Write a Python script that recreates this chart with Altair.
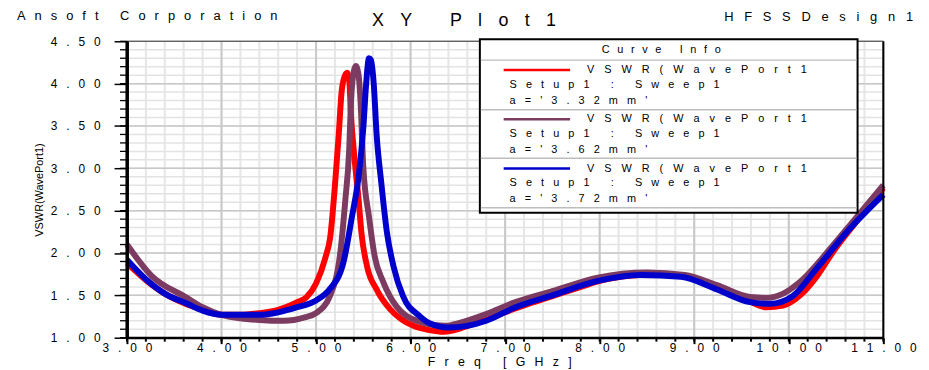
import altair as alt
import pandas as pd

# ---------------- data ----------------
series_labels = ["a='3.32mm'", "a='3.62mm'", "a='3.72mm'"]
series_colors = ["#FF0000", "#7C3C62", "#0000CC"]
legend_line1 = "VSWR(WavePort1"
legend_line2 = "Setup1 : Sweep1"

freq_332 = [3.00, 3.20, 3.40, 3.60, 3.80, 4.00, 4.20, 4.40, 4.60, 4.80, 4.90, 5.00, 5.10, 5.15, 5.20,
            5.24, 5.27, 5.30, 5.33, 5.35, 5.37, 5.40, 5.45, 5.48, 5.54, 5.64, 5.78, 5.90, 6.03, 6.20,
            6.35, 6.50, 6.60, 6.80, 7.00, 7.20, 7.50, 7.80, 8.00, 8.30, 8.60, 8.90, 9.20, 9.50, 9.76,
            9.94, 10.12, 10.30, 10.46, 10.70, 11.00]
vswr_332 = [1.88, 1.68, 1.52, 1.41, 1.33, 1.27, 1.27, 1.29, 1.33, 1.42, 1.48, 1.64, 1.95, 2.19, 2.80,
            3.40, 3.90, 4.08, 4.13, 4.06, 3.62, 3.20, 2.63, 2.24, 1.84, 1.57, 1.34, 1.22, 1.14, 1.09,
            1.07, 1.10, 1.14, 1.21, 1.30, 1.38, 1.49, 1.60, 1.67, 1.73, 1.75, 1.73, 1.62, 1.48, 1.36,
            1.38, 1.50, 1.73, 2.00, 2.35, 2.77]

freq_362 = [3.00, 3.26, 3.62, 3.80, 4.00, 4.20, 4.40, 4.66, 4.88, 5.00, 5.15, 5.26, 5.31, 5.35, 5.37,
            5.40, 5.42, 5.45, 5.47, 5.50, 5.56, 5.62, 5.71, 5.85, 6.09, 6.25, 6.38, 6.50, 6.80, 7.11,
            7.50, 7.98, 8.50, 8.90, 9.24, 9.59, 9.76, 9.94, 10.12, 10.46, 10.70, 11.00]
vswr_362 = [2.10, 1.73, 1.48, 1.36, 1.27, 1.23, 1.21, 1.20, 1.24, 1.29, 1.50, 2.04, 2.63, 3.21, 3.80,
            4.15, 4.21, 4.10, 3.80, 3.01, 2.43, 1.96, 1.66, 1.37, 1.19, 1.15, 1.14, 1.17, 1.28, 1.42,
            1.55, 1.71, 1.77, 1.74, 1.62, 1.48, 1.47, 1.52, 1.66, 2.08, 2.40, 2.80]

freq_372 = [3.00, 3.20, 3.40, 3.62, 3.80, 4.00, 4.20, 4.40, 4.60, 4.80, 5.00, 5.15, 5.29, 5.38, 5.45,
            5.50, 5.53, 5.56, 5.58, 5.61, 5.64, 5.69, 5.75, 5.82, 5.92, 6.09, 6.20, 6.40, 6.60, 6.80,
            7.11, 7.50, 7.98, 8.44, 8.86, 9.24, 9.59, 9.80, 10.04, 10.29, 10.64, 11.00]
vswr_372 = [1.92, 1.69, 1.52, 1.41, 1.32, 1.27, 1.27, 1.27, 1.30, 1.36, 1.44, 1.58, 1.89, 2.43, 2.90,
            3.48, 4.00, 4.30, 4.28, 4.00, 3.41, 2.83, 2.24, 1.84, 1.49, 1.26, 1.17, 1.12, 1.14, 1.20,
            1.36, 1.50, 1.67, 1.74, 1.72, 1.57, 1.42, 1.40, 1.49, 1.81, 2.28, 2.69]

x_ticks = [3, 4, 5, 6, 7, 8, 9, 10, 11]
y_ticks = [1.0, 1.5, 2.0, 2.5, 3.0, 3.5, 4.0, 4.5]

# ---------------- styling ----------------
W, H = 763, 299
FONT = "Liberation Sans"
SEP = "\u2002\u2005"
X0, X1, Y0, Y1 = 3.0, 11.0, 1.0, 4.5


def spaced(s, sep=SEP):
    return sep.join(s)


x_minor = [round(3 + 0.2 * i, 1) for i in range(41)]
y_minor = [round(1 + 0.1 * i, 1) for i in range(36)]

xscale = alt.Scale(domain=[X0, X1], nice=False, zero=False)
yscale = alt.Scale(domain=[Y0, Y1], nice=False, zero=False)

xaxis = alt.Axis(values=x_ticks, format=".2f",
                 labelExpr=f"join(split(datum.label, ''), '{SEP}') + '\u2003\u2005\u2006'",
                 title=None, grid=False, domainColor="black", domainWidth=2, tickColor="black",
                 tickWidth=2, tickSize=6, labelFont=FONT, labelFontSize=12, labelColor="black",
                 labelPadding=-1, labelFlush=False, labelOverlap=False, zindex=2)
yaxis = alt.Axis(values=y_ticks, format=".2f", labelExpr=f"join(split(datum.label, ''), '{SEP}')",
                 title=None, grid=False, domainColor="black", domainWidth=3, tickColor="black",
                 tickWidth=1.5, tickSize=13, labelFont=FONT, labelFontSize=12, labelColor="black",
                 labelPadding=14, labelFlush=False, labelOverlap=False, zindex=2)

X = alt.X("f:Q", scale=xscale, axis=xaxis)
Y = alt.Y("v:Q", scale=yscale, axis=yaxis)

one = pd.DataFrame({"k": [0]})
layers = []

# grid
layers.append(alt.Chart(pd.DataFrame({"f": x_minor})).mark_rule(color="#E6E6E6", strokeWidth=2).encode(x=X))
layers.append(alt.Chart(pd.DataFrame({"v": y_minor})).mark_rule(color="#E3E3E3", strokeWidth=1.5).encode(y=Y))
layers.append(alt.Chart(pd.DataFrame({"f": x_ticks})).mark_rule(color="#C8C8C8", strokeWidth=2).encode(x=X))
layers.append(alt.Chart(pd.DataFrame({"v": y_ticks})).mark_rule(color="#C8C8C8", strokeWidth=1.5).encode(y=Y))

# curves
for fr, vs, col in [(freq_332, vswr_332, series_colors[0]),
                    (freq_362, vswr_362, series_colors[1]),
                    (freq_372, vswr_372, series_colors[2])]:
    df = pd.DataFrame({"f": fr, "v": vs})
    layers.append(alt.Chart(df).mark_line(color=col, strokeWidth=6, interpolate="monotone").encode(x=X, y=Y))

# minor ticks (through the scales: 7 px left of the y axis, 4 px below the x axis)
ymt = pd.DataFrame({"v": y_minor, "f": [X0 - 7 * (X1 - X0) / W] * len(y_minor),
                    "f2": [X0] * len(y_minor)})
layers.append(alt.Chart(ymt).mark_rule(color="black", strokeWidth=1.3)
              .encode(x=X, x2="f2:Q", y=Y))
xmt = pd.DataFrame({"f": x_minor, "v": [Y0] * len(x_minor),
                    "v2": [Y0 - 4 * (Y1 - Y0) / H] * len(x_minor)})
layers.append(alt.Chart(xmt).mark_rule(color="black", strokeWidth=2)
              .encode(x=X, y=Y, y2="v2:Q"))

# frame
layers.append(alt.Chart(one).mark_rule(color="black", strokeWidth=2)
              .encode(x=alt.value(W), y=alt.value(0), y2=alt.value(H)))
layers.append(alt.Chart(one).mark_rule(color="#444444", strokeWidth=1)
              .encode(x=alt.value(0), x2=alt.value(W), y=alt.value(0)))
layers.append(alt.Chart(one).mark_rule(color="black", strokeWidth=3)
              .encode(x=alt.value(0), y=alt.value(0), y2=alt.value(H + 1)))
layers.append(alt.Chart(one).mark_rule(color="black", strokeWidth=2)
              .encode(x=alt.value(0), x2=alt.value(W), y=alt.value(H)))

# legend box
layers.append(alt.Chart(one).mark_rect(fill="white", stroke="black", strokeWidth=2)
              .encode(x=alt.value(356), x2=alt.value(737), y=alt.value(-2), y2=alt.value(173)))
for sy in [19, 69, 118, 168]:
    layers.append(alt.Chart(one).mark_rule(color="#BDBDBD", strokeWidth=1.5)
                  .encode(x=alt.value(357), x2=alt.value(736), y=alt.value(sy)))
layers.append(alt.Chart(one).mark_text(text=spaced("Curve Info", "\u2002\u2009"), align="center",
                                       baseline="middle", font=FONT, fontSize=11, color="black")
              .encode(x=alt.value(539), y=alt.value(9)))
for i, (lab, col) in enumerate(zip(series_labels, series_colors)):
    base = 29 + 49.7 * i
    layers.append(alt.Chart(one).mark_rule(color=col, strokeWidth=2.5)
                  .encode(x=alt.value(380), x2=alt.value(447), y=alt.value(base)))
    layers.append(alt.Chart(one).mark_text(text=spaced(legend_line1, "\u2002\u2004\u200a"), align="left",
                                           baseline="middle", font=FONT, fontSize=11, color="black")
                  .encode(x=alt.value(464), y=alt.value(base)))
    layers.append(alt.Chart(one).mark_text(text=spaced(legend_line2, "\u2002\u2004"), align="left",
                                           baseline="middle", font=FONT, fontSize=11, color="black")
                  .encode(x=alt.value(386), y=alt.value(base + 15)))
    layers.append(alt.Chart(one).mark_text(text=spaced(lab, "\u2002\u2004"), align="left",
                                           baseline="middle", font=FONT, fontSize=11, color="black")
                  .encode(x=alt.value(386), y=alt.value(base + 31)))

# titles
layers.append(alt.Chart(one).mark_text(text=spaced("Ansoft Corporation", "\u2002\u2009"), align="left",
                                       baseline="alphabetic", font=FONT, fontSize=13, color="black")
              .encode(x=alt.value(-111), y=alt.value(-21)))
layers.append(alt.Chart(one).mark_text(text=spaced("XY Plot1", "\u2002\u2004\u200a"), align="center",
                                       baseline="alphabetic", font=FONT, fontSize=18, color="black")
              .encode(x=alt.value(340), y=alt.value(-15)))
layers.append(alt.Chart(one).mark_text(text=spaced("HFSSDesign1", "\u2002\u2004"), align="right",
                                       baseline="alphabetic", font=FONT, fontSize=13, color="black")
              .encode(x=alt.value(793), y=alt.value(-20)))
layers.append(alt.Chart(one).mark_text(text=spaced("Freq [GHz]", "\u2002\u2005"), align="center",
                                       baseline="alphabetic", font=FONT, fontSize=12.5, color="black")
              .encode(x=alt.value(376), y=alt.value(328)))
layers.append(alt.Chart(one).mark_text(text="VSWR(WavePort1)", align="center", angle=270,
                                       baseline="middle", font=FONT, fontSize=11, color="black")
              .encode(x=alt.value(-88), y=alt.value(150)))

chart = alt.layer(*layers).properties(
    width=W, height=H,
    padding={"left": 120, "top": 32, "right": 38, "bottom": 31},
    autosize=alt.AutoSizeParams(type="none"),
).configure_view(stroke=None)

chart.save("out.html", embed_options={"renderer": "svg", "actions": False})
